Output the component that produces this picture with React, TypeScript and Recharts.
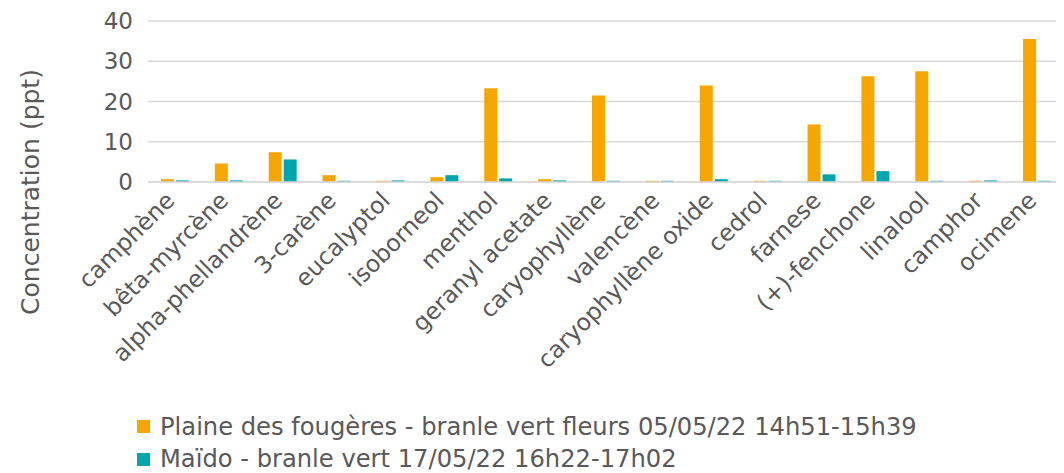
import React from 'react';
import { BarChart, Bar, XAxis, YAxis, CartesianGrid, Legend, Label } from 'recharts';

const categories = ['camphène', 'bêta-myrcène', 'alpha-phellandrène', '3-carène', 'eucalyptol', 'isoborneol', 'menthol', 'geranyl acetate', 'caryophyllène', 'valencène', 'caryophyllène oxide', 'cedrol', 'farnese', '(+)-fenchone', 'linalool', 'camphor', 'ocimene'];
const plaineValues = [0.7, 4.6, 7.4, 1.7, 0.3, 1.2, 23.3, 0.7, 21.5, 0.3, 24.0, 0.3, 14.3, 26.3, 27.5, 0.3, 35.5];
const maidoValues = [0.4, 0.4, 5.6, 0.3, 0.4, 1.7, 0.9, 0.4, 0.3, 0.3, 0.7, 0.3, 1.9, 2.7, 0.3, 0.4, 0.3];
const yTicks = [0, 5, 10, 15, 20, 25, 30, 35, 40];
const seriesNames = ['Plaine des fougères - branle vert fleurs 05/05/22 14h51-15h39', 'Maïdo - branle vert 17/05/22 16h22-17h02'];
const colors = ['#F5A700', '#00A5AE'];

const data = categories.map((c, i) => ({ name: c, plaine: plaineValues[i], maido: maidoValues[i] }));

const FONT = '"DejaVu Sans", sans-serif';
const TEXT = '#595959';

const YTick = (props: any) => {
  const { x, y, payload } = props;
  if (payload.value % 10 !== 0) return null;
  return (
    <text x={x} y={y} dy={8} textAnchor="end" fontSize={23} fontFamily={FONT} fill={TEXT}>
      {payload.value}
    </text>
  );
};

const XTick = (props: any) => {
  const { x, y, payload } = props;
  return (
    <g transform={`translate(${x + 1},${y + 12})`}>
      <text x={0} y={0} textAnchor="end" transform="rotate(-45)" fontSize={23.5} fontFamily={FONT} fill={TEXT}>
        {payload.value}
      </text>
    </g>
  );
};

const YLabel = () => (
  <text x={0} y={0} transform="translate(22,184) rotate(-90)" textAnchor="middle" dominantBaseline="central" fontSize={25} fontFamily={FONT} fill={TEXT}>
    Concentration (ppt)
  </text>
);

const rowCenters = [23.5, 56];

const LegendContent = () => (
  <div style={{ position: 'relative', height: 70, fontFamily: FONT, fontSize: 24.2, color: TEXT }}>
    {seriesNames.map((n, i) => (
      <div key={n} style={{ position: 'absolute', left: 129, top: rowCenters[i] - 11, height: 22, display: 'flex', alignItems: 'center', whiteSpace: 'nowrap', lineHeight: '22px' }}>
        <span style={{ display: 'inline-block', width: 13, height: 13, background: colors[i], marginRight: 10 }} />
        <span>{n}</span>
      </div>
    ))}
  </div>
);

export default function App() {
  return (
    <BarChart width={1056} height={465} data={data} margin={{ top: 13, right: 0, left: 0, bottom: 0 }} barGap={2} barCategoryGap="24%">
      <CartesianGrid vertical={false} stroke="#D9D9D9" strokeWidth={1.5} />
      <XAxis dataKey="name" interval={0} height={221} tick={<XTick />} tickLine={false} axisLine={{ stroke: '#D9D9D9', strokeWidth: 1.5 }} />
      <YAxis width={140} domain={[0, 40]} ticks={yTicks} tick={<YTick />} tickLine={false} axisLine={false} tickMargin={9}>
        <Label content={<YLabel />} />
      </YAxis>
      <Legend verticalAlign="bottom" align="left" content={<LegendContent />} />
      <Bar dataKey="plaine" name={seriesNames[0]} fill={colors[0]} isAnimationActive={false} />
      <Bar dataKey="maido" name={seriesNames[1]} fill={colors[1]} isAnimationActive={false} />
    </BarChart>
  );
}
